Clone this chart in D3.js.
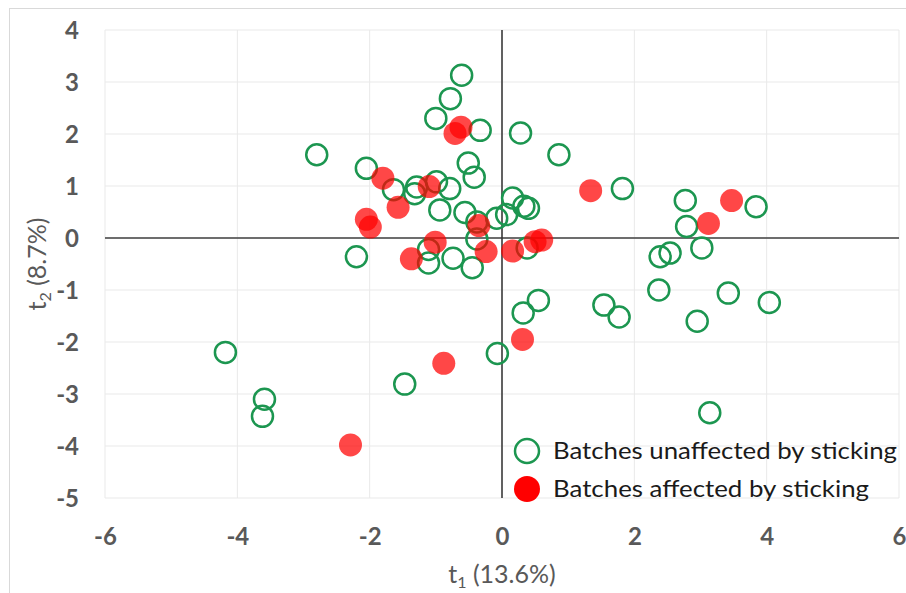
<!DOCTYPE html>
<html>
<head>
<meta charset="utf-8">
<script src="https://cdn.jsdelivr.net/npm/d3@7"></script>
<style>
  html, body { margin: 0; padding: 0; background: #fff; }
  svg { display: block; }
</style>
</head>
<body>
<svg id="chart" width="906" height="593"></svg>
<script>
// ---- Data ----
const unaffected = [
  [-0.61, 3.13], [-0.78, 2.68], [-1.00, 2.30], [-0.33, 2.07], [0.28, 2.02],
  [-2.80, 1.60], [0.86, 1.60], [-2.05, 1.34], [-0.51, 1.44], [-0.42, 1.17],
  [-1.64, 0.93], [-1.29, 0.98], [-1.32, 0.85], [-0.99, 1.08], [-0.79, 0.95],
  [-0.94, 0.54], [-0.56, 0.49], [-0.38, 0.31], [-0.38, -0.02], [-0.08, 0.38],
  [0.07, 0.45], [0.16, 0.77], [0.33, 0.61], [0.40, 0.57], [-2.20, -0.36],
  [-1.11, -0.22], [-1.11, -0.48], [-0.74, -0.39], [-0.45, -0.57], [0.38, -0.19],
  [1.82, 0.95], [2.77, 0.72], [2.79, 0.22], [3.84, 0.60], [3.02, -0.19],
  [2.39, -0.36], [2.54, -0.29], [2.37, -1.00], [3.42, -1.06], [4.04, -1.24],
  [2.95, -1.60], [1.54, -1.29], [1.77, -1.52], [0.55, -1.20], [0.32, -1.44],
  [-0.07, -2.22], [-1.47, -2.81], [-4.18, -2.20], [-3.59, -3.10], [-3.62, -3.43],
  [3.14, -3.36]
];
const affected = [
  [-0.71, 2.01], [-0.62, 2.13], [-1.80, 1.15], [-1.57, 0.59], [-1.10, 0.99],
  [-2.05, 0.36], [-1.99, 0.21], [-1.01, -0.08], [-1.37, -0.40], [-0.35, 0.24],
  [-0.24, -0.26], [0.16, -0.25], [0.50, -0.07], [0.60, -0.04], [1.34, 0.91],
  [3.47, 0.72], [3.12, 0.28], [0.31, -1.95], [-0.88, -2.41], [-2.29, -3.98]
];
const xTicks = [-6, -4, -2, 0, 2, 4, 6];
const yTicks = [-5, -4, -3, -2, -1, 0, 1, 2, 3, 4];
const legendLabels = ["Batches unaffected by sticking", "Batches affected by sticking"];

// ---- Layout ----
const svg = d3.select("#chart");
const x = d3.scaleLinear().domain([-6, 6]).range([105, 899]);
const y = d3.scaleLinear().domain([-5, 4]).range([498, 30]);
const green = "#1c9650";
const gray = "#595959";
const font = "Lato, 'Open Sans', sans-serif";

// outer frame
svg.append("rect").attr("x", 9.5).attr("y", 8.5).attr("width", 920).attr("height", 600)
  .attr("fill", "#fff").attr("stroke", "#d9d9d9").attr("stroke-width", 1);

// gridlines
const grid = svg.append("g");
grid.selectAll("line.h").data(yTicks).join("line")
  .attr("x1", x(-6)).attr("x2", x(6))
  .attr("y1", d => y(d)).attr("y2", d => y(d))
  .attr("stroke", "#e9e9e9").attr("stroke-width", 1);
grid.selectAll("line.v").data(xTicks).join("line")
  .attr("y1", y(-5)).attr("y2", y(4))
  .attr("x1", d => x(d)).attr("x2", d => x(d))
  .attr("stroke", "#e9e9e9").attr("stroke-width", 1);

// zero axes
svg.append("line").attr("x1", x(-6)).attr("x2", x(6)).attr("y1", y(0)).attr("y2", y(0))
  .attr("stroke", "#404040").attr("stroke-width", 1.5);
svg.append("line").attr("x1", x(0)).attr("x2", x(0)).attr("y1", y(-5)).attr("y2", y(4))
  .attr("stroke", "#303030").attr("stroke-width", 1.5);

// tick labels via d3 axes (no domain/ticks lines)
const xAxis = d3.axisBottom(x).tickValues(xTicks).tickSize(0).tickPadding(0);
const gx = svg.append("g").attr("transform", `translate(0,${y(-5) + 47})`).call(xAxis);
const yAxis = d3.axisLeft(y).tickValues(yTicks).tickSize(0).tickPadding(0);
const gy = svg.append("g").attr("transform", `translate(79,0)`).call(yAxis);
[gx, gy].forEach(g => {
  g.select(".domain").remove();
  g.attr("font-size", 24);
  g.selectAll("text").attr("font-family", font)
    .attr("font-size", 24).attr("font-weight", "bold").attr("fill", gray)
    .text(d => d < 0 ? "-" + Math.abs(d) : d);
});
gx.selectAll("text").attr("dy", "0");
gy.selectAll("text").attr("dy", "0.36em");

// axis titles
const xt = svg.append("text").attr("x", 502).attr("y", 583).attr("text-anchor", "middle")
  .attr("font-family", font).attr("font-size", 25).attr("fill", gray);
xt.append("tspan").text("t");
xt.append("tspan").attr("font-size", 16).attr("dy", 5).text("1");
xt.append("tspan").attr("dy", -5).text(" (13.6%)");

const yt = svg.append("text").attr("transform", "translate(46,264) rotate(-90)").attr("text-anchor", "middle")
  .attr("font-family", font).attr("font-size", 25).attr("fill", gray);
yt.append("tspan").text("t");
yt.append("tspan").attr("font-size", 16).attr("dy", 5).text("2");
yt.append("tspan").attr("dy", -5).text(" (8.7%)");

// points
svg.append("g").selectAll("circle").data(unaffected).join("circle")
  .attr("cx", d => x(d[0])).attr("cy", d => y(d[1])).attr("r", 10.5)
  .attr("fill", "none").attr("stroke", green).attr("stroke-width", 2.5);
svg.append("g").selectAll("circle").data(affected).join("circle")
  .attr("cx", d => x(d[0])).attr("cy", d => y(d[1])).attr("r", 11.5)
  .attr("fill", "#ff0000").attr("fill-opacity", 0.72);

// legend
const lg = svg.append("g");
lg.append("circle").attr("cx", 527).attr("cy", 451).attr("r", 12).attr("fill", "none")
  .attr("stroke", green).attr("stroke-width", 2.5);
lg.append("circle").attr("cx", 527).attr("cy", 489).attr("r", 13).attr("fill", "#ff0000");
lg.selectAll("text").data(legendLabels).join("text")
  .attr("x", 553).attr("y", (d, i) => 451 + i * 38).attr("dy", "0.36em")
  .attr("font-family", font).attr("font-size", 23).attr("fill", "#1a1a1a")
  .attr("textLength", (d, i) => i === 0 ? 344 : 316).attr("lengthAdjust", "spacingAndGlyphs")
  .text(d => d);
</script>
</body>
</html>
